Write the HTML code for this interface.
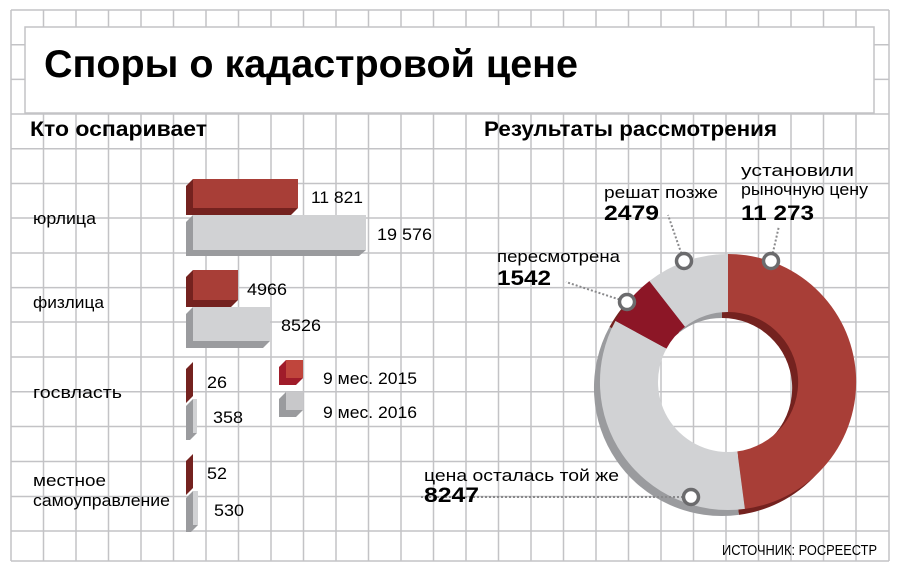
<!DOCTYPE html>
<html><head><meta charset="utf-8"><style>
html,body{margin:0;padding:0;background:#fff;}
svg{display:block;font-family:"Liberation Sans",sans-serif;}
</style></head><body>
<svg width="906" height="578" viewBox="0 0 906 578" xmlns="http://www.w3.org/2000/svg">
<rect width="906" height="578" fill="#fff"/>
<g stroke="#c3c3c6" stroke-width="1.5" fill="none">
<path d="M11 10V561M43.5 10V561M76 10V561M108.5 10V561M141 10V561M173.5 10V561M206 10V561M238.5 10V561M271 10V561M303.5 10V561M336 10V561M368.5 10V561M401 10V561M433.5 10V561M466 10V561M498.5 10V561M531 10V561M563.5 10V561M596 10V561M628.5 10V561M661 10V561M693.5 10V561M726 10V561M758.5 10V561M791 10V561M823.5 10V561M856 10V561M889 10V561"/>
<path d="M11 10H889M11 44.7H889M11 79.4H889M11 114H889M11 148.8H889M11 183.5H889M11 218H889M11 253H889M11 287.6H889M11 322H889M11 357H889M11 391.7H889M11 426.5H889M11 461.5H889M11 496.5H889M11 531H889M11 561H889"/>
</g>
<rect x="25" y="27" width="849" height="86" fill="#fff" stroke="#c3c3c6" stroke-width="1.5"/>
<text x="44" y="77" font-size="39" font-weight="bold" textLength="534" lengthAdjust="spacingAndGlyphs">Споры о кадастровой цене</text>
<text x="30" y="136" font-size="21" font-weight="bold" textLength="177" lengthAdjust="spacingAndGlyphs">Кто оспаривает</text>
<text x="484" y="136" font-size="21" font-weight="bold" textLength="293" lengthAdjust="spacingAndGlyphs">Результаты рассмотрения</text>

<g font-size="17">
<text x="33" y="224" textLength="63" lengthAdjust="spacingAndGlyphs">юрлица</text>
<text x="33" y="308" textLength="71" lengthAdjust="spacingAndGlyphs">физлица</text>
<text x="33" y="398" textLength="89" lengthAdjust="spacingAndGlyphs">госвласть</text>
<text x="33" y="486" textLength="73" lengthAdjust="spacingAndGlyphs">местное</text>
<text x="33" y="506" textLength="137" lengthAdjust="spacingAndGlyphs">самоуправление</text>
</g>

<!-- bars -->
<g>
<polygon points="193,179 186,186 186,215 291,215 298,208" fill="#74221f"/>
<rect x="193" y="179" width="105" height="29" fill="#a83e37"/>
<polygon points="193,215 186,222 186,256 359,256 366,250" fill="#9a9b9e"/>
<rect x="193" y="215" width="173" height="35" fill="#d1d2d4"/>
<polygon points="193,270 186,277 186,307 231,307 238,300" fill="#74221f"/>
<rect x="193" y="270" width="45" height="30" fill="#a83e37"/>
<polygon points="193,307 186,314 186,348 263,348 270,341" fill="#9a9b9e"/>
<rect x="193" y="307" width="77" height="34" fill="#d1d2d4"/>
<polygon points="193,362 193,396 186,403 186,369" fill="#74221f"/>
<polygon points="193,399 197,399 197,433 190,440 186,440 186,406" fill="#9a9b9e"/>
<rect x="193" y="399" width="4" height="34" fill="#d1d2d4"/>
<polygon points="193,454 193,488 186,495 186,461" fill="#74221f"/>
<polygon points="193,491 198,491 198,525 191,532 186,532 186,498" fill="#9a9b9e"/>
<rect x="193" y="491" width="5" height="34" fill="#d1d2d4"/>
</g>
<g font-size="17">
<text x="311" y="203" textLength="52" lengthAdjust="spacingAndGlyphs">11 821</text>
<text x="377" y="240" textLength="55" lengthAdjust="spacingAndGlyphs">19 576</text>
<text x="247" y="295" textLength="40" lengthAdjust="spacingAndGlyphs">4966</text>
<text x="281" y="331" textLength="40" lengthAdjust="spacingAndGlyphs">8526</text>
<text x="207" y="388" textLength="20" lengthAdjust="spacingAndGlyphs">26</text>
<text x="213" y="423" textLength="30" lengthAdjust="spacingAndGlyphs">358</text>
<text x="207" y="479" textLength="20" lengthAdjust="spacingAndGlyphs">52</text>
<text x="214" y="516" textLength="30" lengthAdjust="spacingAndGlyphs">530</text>
</g>
<!-- legend -->
<polygon points="286,360 279,367 279,385 296,385 303,378" fill="#a01c2a"/>
<rect x="286" y="360" width="17" height="18" fill="#c0453c"/>
<polygon points="286,392 279,399 279,417 296,417 303,410" fill="#9a9b9e"/>
<rect x="286" y="392" width="17" height="18" fill="#c8c8ca"/>
<g font-size="17">
<text x="323" y="384" textLength="94" lengthAdjust="spacingAndGlyphs">9 мес. 2015</text>
<text x="323" y="418" textLength="94" lengthAdjust="spacingAndGlyphs">9 мес. 2016</text>
</g>

<!-- donut shadow -->
<g transform="translate(-6,6)">
<path d="M728 254A128 128 0 0 1 744.9 508.9L737.3 451.4A70 70 0 0 0 728 312Z" fill="#74221f"/>
<path d="M744.9 508.9A128 128 0 0 1 615.5 320.9L666.5 348.6A70 70 0 0 0 737.3 451.4Z" fill="#9a9b9e"/>
<path d="M615.5 320.9A128 128 0 0 1 649.4 281L685 326.8A70 70 0 0 0 666.5 348.6Z" fill="#74221f"/>
<path d="M649.4 281A128 128 0 0 1 728 254L728 312A70 70 0 0 0 685 326.8Z" fill="#9a9b9e"/>
</g>
<path d="M728 254A128 128 0 0 1 744.9 508.9L737.3 451.4A70 70 0 0 0 728 312Z" fill="#a83e37"/>
<path d="M744.9 508.9A128 128 0 0 1 615.5 320.9L666.5 348.6A70 70 0 0 0 737.3 451.4Z" fill="#d1d2d4"/>
<path d="M615.5 320.9A128 128 0 0 1 649.4 281L685 326.8A70 70 0 0 0 666.5 348.6Z" fill="#8c1626"/>
<path d="M649.4 281A128 128 0 0 1 728 254L728 312A70 70 0 0 0 685 326.8Z" fill="#d1d2d4"/>

<!-- leaders -->
<g stroke="#8a8a8c" stroke-width="2" stroke-dasharray="2,2" fill="none">
<path d="M771 261L779 226"/>
<path d="M684 261L668 215"/>
<path d="M627 302L566 282"/>
<path d="M691 497H420"/>
</g>
<g fill="#fff" stroke="#6b6b6d" stroke-width="3.5">
<circle cx="771" cy="261" r="7.5"/>
<circle cx="684" cy="261" r="7.5"/>
<circle cx="627" cy="302" r="7.5"/>
<circle cx="691" cy="497" r="7.5"/>
</g>

<g font-size="17">
<text x="741" y="176" textLength="113" lengthAdjust="spacingAndGlyphs">установили</text>
<text x="741" y="195" textLength="127" lengthAdjust="spacingAndGlyphs">рыночную цену</text>
<text x="604" y="198" textLength="114" lengthAdjust="spacingAndGlyphs">решат позже</text>
<text x="497" y="262" textLength="123" lengthAdjust="spacingAndGlyphs">пересмотрена</text>
<text x="424" y="481" textLength="195" lengthAdjust="spacingAndGlyphs">цена осталась той же</text>
</g>
<g font-size="21" font-weight="bold">
<text x="741" y="220" textLength="73" lengthAdjust="spacingAndGlyphs">11 273</text>
<text x="604" y="220" textLength="55" lengthAdjust="spacingAndGlyphs">2479</text>
<text x="497" y="285" textLength="54" lengthAdjust="spacingAndGlyphs">1542</text>
<text x="424" y="502" textLength="55" lengthAdjust="spacingAndGlyphs">8247</text>
</g>
<text x="722" y="555" font-size="15" textLength="155" lengthAdjust="spacingAndGlyphs">ИСТОЧНИК: РОСРЕЕСТР</text>
</svg>
</body></html>
